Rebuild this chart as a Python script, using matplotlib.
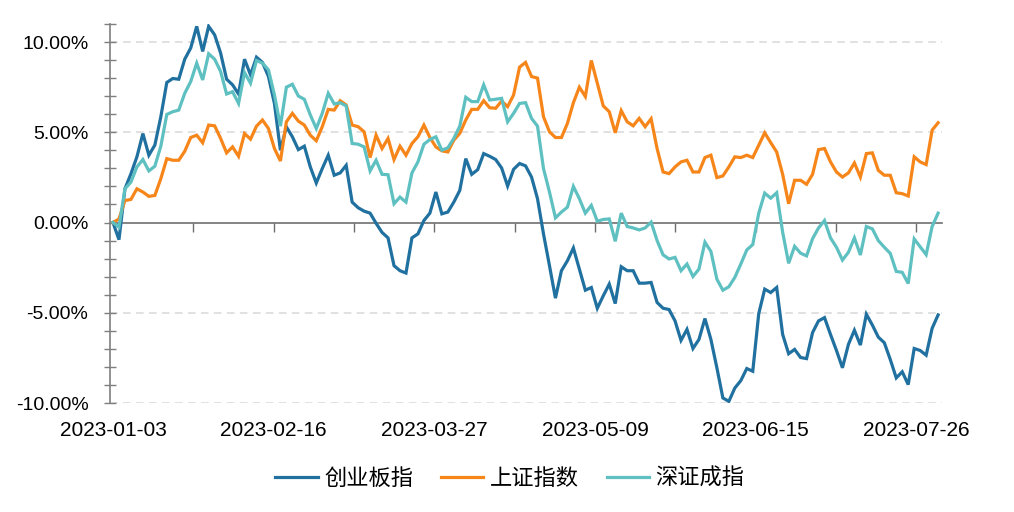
import numpy as np
import matplotlib
matplotlib.use("Agg")
import matplotlib.pyplot as plt
from matplotlib.ticker import FixedLocator, MultipleLocator, FuncFormatter
from matplotlib.font_manager import FontProperties

series_names = ["创业板指", "上证指数", "深证成指"]
x_labels = ["2023-01-03", "2023-02-16", "2023-03-27", "2023-05-09", "2023-06-15", "2023-07-26"]

chinext = [0, -0.95, 1.87, 2.7, 3.64, 4.93, 3.73, 4.29, 5.86, 7.76,
           7.98, 7.94, 9.05, 9.67, 10.87, 9.48, 10.87, 10.4, 9.39, 7.94,
           7.63, 7.12, 9.05, 8.18, 9.16, 8.87, 8.09, 6.6, 4.0, 5.3,
           4.75, 4.04, 4.23, 3.08, 2.19, 2.99, 3.73, 2.62, 2.75, 3.17,
           1.13, 0.82, 0.63, 0.52, -0.04, -0.55, -0.85, -2.39, -2.67, -2.8,
           -0.85, -0.63, 0.11, 0.52, 1.69, 0.48, 0.58, 1.13, 1.78, 3.54,
           2.67, 2.93, 3.82, 3.67, 3.49, 3.02, 2.02, 2.95, 3.27, 3.14,
           2.52, 1.32, -0.63, -2.39, -4.19, -2.67, -2.12, -1.41, -2.58, -3.75,
           -3.6, -4.75, -4.06, -3.41, -4.49, -2.45, -2.67, -2.67, -3.36, -3.36,
           -3.32, -4.43, -4.75, -4.82, -5.45, -6.53, -5.92, -6.98, -6.48, -5.32,
           -6.48, -8.05, -9.72, -9.91, -9.17, -8.76, -8.09, -8.24, -5.05, -3.69,
           -3.88, -3.6, -6.2, -7.27, -7.03, -7.48, -7.54, -6.1, -5.45, -5.27,
           -6.2, -7.09, -8.05, -6.75, -5.97, -6.79, -5.08, -5.68, -6.35, -6.66,
           -7.59, -8.61, -8.27, -8.98, -6.98, -7.09, -7.35, -5.86, -5.12]

sse = [0, 0.2, 1.22, 1.28, 1.87, 1.69, 1.45, 1.5, 2.43, 3.54,
       3.45, 3.45, 3.95, 4.71, 4.84, 4.42, 5.4, 5.36, 4.66, 3.86,
       4.19, 3.67, 4.93, 4.62, 5.34, 5.68, 5.21, 4.1, 3.41, 5.58,
       6.05, 5.62, 5.4, 4.84, 4.53, 5.31, 6.27, 6.23, 6.75, 6.51,
       5.4, 5.31, 5.03, 3.6, 4.84, 4.1, 4.66, 3.49, 4.23, 3.73,
       4.38, 4.75, 5.4, 4.71, 4.19, 3.97, 3.91, 4.56, 4.94, 5.68,
       6.27, 6.27, 6.75, 6.36, 6.33, 6.73, 6.42, 7.07, 8.61, 8.87,
       8.09, 8.0, 5.86, 5.03, 4.71, 4.71, 5.49, 6.64, 7.5, 6.98,
       8.98, 7.72, 6.46, 6.14, 4.97, 6.2, 5.58, 5.36, 5.77, 5.31,
       5.75, 4.1, 2.8, 2.71, 3.08, 3.36, 3.45, 2.8, 2.8, 3.6,
       3.73, 2.49, 2.58, 3.08, 3.64, 3.6, 3.73, 3.6, 4.29, 4.97,
       4.43, 3.91, 2.67, 1.04, 2.34, 2.34, 2.12, 2.67, 4.04, 4.1,
       3.36, 2.8, 2.52, 2.75, 3.3, 2.52, 3.82, 3.86, 2.89, 2.62,
       2.62, 1.65, 1.6, 1.47, 3.64, 3.36, 3.21, 5.12, 5.53]

szse = [0, -0.26, 1.87, 2.24, 3.08, 3.49, 2.86, 3.12, 4.23, 5.99,
        6.14, 6.23, 7.16, 7.81, 8.83, 7.9, 9.35, 9.05, 8.37, 7.12,
        7.25, 6.6, 8.31, 7.72, 8.98, 8.83, 8.46, 7.07, 5.34, 7.5,
        7.66, 7.01, 6.83, 5.96, 5.21, 6.05, 7.16, 6.57, 6.64, 6.46,
        4.38, 4.34, 4.19, 2.86, 3.45, 2.67, 2.65, 1.04, 1.41, 1.13,
        2.75, 3.36, 4.34, 4.6, 4.75, 4.01, 4.14, 4.66, 5.34, 6.94,
        6.7, 6.7, 7.63, 6.79, 6.83, 6.88, 5.58, 6.05, 6.6, 6.64,
        5.77, 5.34, 2.99, 1.69, 0.26, 0.58, 0.85, 2.0, 1.32, 0.52,
        0.95, 0.07, 0.17, 0.2, -1.04, 0.52, -0.22, -0.3, -0.41, -0.3,
        0.02, -1.0, -1.79, -2.02, -1.93, -2.67, -2.3, -2.99, -2.58, -1.09,
        -1.6, -3.14, -3.75, -3.56, -3.04, -2.3, -1.52, -1.22, 0.52, 1.63,
        1.35, 1.65, -0.54, -2.26, -1.32, -1.7, -1.85, -0.9, -0.3, 0.11,
        -0.85, -1.37, -2.08, -1.65, -0.85, -1.8, -0.22, -0.35, -1.0, -1.37,
        -1.71, -2.71, -2.76, -3.38, -0.91, -1.34, -1.78, -0.22, 0.52]

colors = ["#2171A0", "#F7861A", "#5EC0C0"]
grid_values = [-10, -5, 5, 10]

plt.rcParams["font.family"] = ["Liberation Sans", "Noto Sans CJK SC", "DejaVu Sans"]

fig = plt.figure(figsize=(10.14, 5.12), dpi=100)
ax = fig.add_axes([110 / 1014, 1 - 403 / 512, (942 - 110) / 1014, (403 - 24) / 512])

x = np.arange(len(chinext))
for vals, name, c in zip([chinext, sse, szse], series_names, colors):
    ax.plot(x, vals, color=c, lw=2.3, label=name, solid_joinstyle="miter", zorder=3)

n = len(chinext)
ax.set_xlim(-0.5, n - 1 + 0.65)
ax.set_ylim(-10, 11)

# y axis
ax.yaxis.set_major_locator(FixedLocator([-10, -5, 0, 5, 10]))
ax.yaxis.set_minor_locator(MultipleLocator(1))
ax.yaxis.set_major_formatter(FuncFormatter(lambda v, p: f"{v:.2f}%"))
ax.tick_params(axis="y", which="both", direction="inout", length=9, width=1, color="#7F7F7F")
ax.tick_params(axis="y", which="major", pad=11, labelsize=14, labelcolor="black")
ax.spines["left"].set_color("#7F7F7F")
ax.spines["left"].set_linewidth(1.2)
for s in ["top", "right", "bottom"]:
    ax.spines[s].set_visible(False)

for gv in grid_values:
    ax.axhline(gv, color="#D9D9D9", linestyle=(0, (5, 3.5)), lw=1.1, zorder=1)

# x labels at bottom
tick_step = (n - 1) / 10.27
label_pos = [i * 2 * tick_step for i in range(len(x_labels))]
ax.set_xticks(label_pos)
ax.set_xticklabels(x_labels)
ax.tick_params(axis="x", which="both", length=0, pad=13, labelsize=15, labelcolor="black")

# zero line with tick marks
sec = ax.secondary_xaxis(10 / 21)
sec.set_xticks([i * tick_step for i in range(1, 11)])
sec.set_xticklabels([])
sec.tick_params(axis="x", direction="out", length=6.5, width=1, color="#6F6F6F")
sec.spines["bottom"].set_color("#6F6F6F")
sec.spines["bottom"].set_linewidth(1.2)

leg = fig.legend(loc="center", bbox_to_anchor=(510 / 1014, 1 - 478 / 512), ncol=3,
                 frameon=False, prop=FontProperties(family="Noto Sans CJK SC", size=16),
                 handlelength=1.9, handletextpad=0.3, columnspacing=1.25)

fig.savefig("out.png", dpi=100)
